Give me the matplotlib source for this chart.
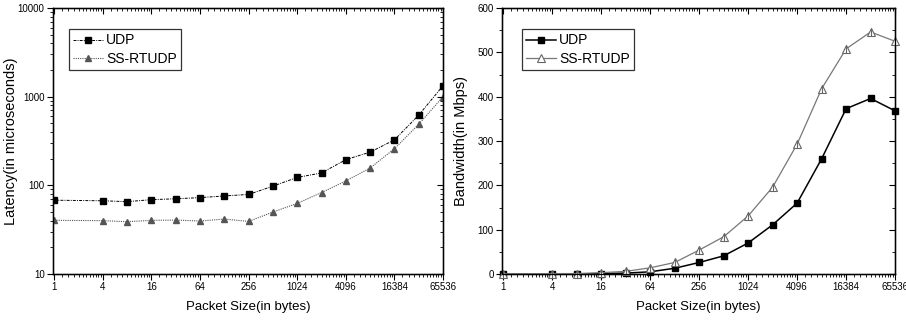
import numpy as np
import matplotlib
matplotlib.use('Agg')
import matplotlib.pyplot as plt
from matplotlib.ticker import LogLocator, FixedLocator, FixedFormatter, MultipleLocator, NullFormatter

plt.rcParams['font.family'] = ['Liberation Sans', 'DejaVu Sans']

# packet sizes (bytes)
sizes = [1, 4, 8, 16, 32, 64, 128, 256, 512, 1024, 2048, 4096, 8192, 16384, 32768, 65536]
xtick_vals = [1, 4, 16, 64, 256, 1024, 4096, 16384, 65536]
xtick_labels = ['1', '4', '16', '64', '256', '1024', '4096', '16384', '65536']

# latency (microseconds)
lat_udp = [68, 67, 65.5, 69, 70.6, 72.7, 76, 79, 98, 123, 138, 195, 237, 326, 620, 1330]
lat_ss = [40.3, 40, 38.9, 40.3, 40.6, 39.6, 41.7, 39.2, 50, 62.6, 83, 112, 157, 259, 488, 1000]

# bandwidth (Mbps)
bw_udp = [0, 0, 0.3, 1, 2, 5, 13, 26, 41, 70, 111, 160, 260, 373, 396, 368]
bw_ss = [0.5, 1, 1, 3, 6, 14, 26, 54, 84, 131, 196, 293, 418, 508, 546, 525]

fig = plt.figure(figsize=(9.06, 3.22), dpi=100)
ax1 = fig.add_axes([0.0585, 0.149, 0.4305, 0.826])
ax2 = fig.add_axes([0.554, 0.149, 0.434, 0.826])

xlo, xhi = 2 ** -0.05, 2 ** 16.0


def style_x(ax):
    ax.set_xscale('log', base=2)
    ax.set_xlim(xlo, xhi)
    ax.xaxis.set_major_locator(FixedLocator(xtick_vals))
    ax.xaxis.set_major_formatter(FixedFormatter(xtick_labels))
    ax.xaxis.set_minor_locator(LogLocator(base=4, subs=np.arange(1.25, 4.0, 0.25), numticks=50))
    ax.xaxis.set_minor_formatter(NullFormatter())
    ax.tick_params(axis='x', which='major', direction='out', length=4, width=0.8, labelsize=7, pad=2)
    ax.tick_params(axis='x', which='minor', direction='out', length=2, width=0.6)
    ax.set_xlabel('Packet Size(in bytes)', fontsize=9.5, labelpad=6)
    # mirrored ticks on top, pointing in
    top = ax.twiny()
    top.set_xscale('log', base=2)
    top.set_xlim(xlo, xhi)
    top.xaxis.set_major_locator(FixedLocator(xtick_vals))
    top.xaxis.set_minor_locator(LogLocator(base=4, subs=np.arange(1.25, 4.0, 0.25), numticks=50))
    top.tick_params(axis='x', which='major', direction='in', length=4, width=0.8, labeltop=False)
    top.tick_params(axis='x', which='minor', direction='in', length=2, width=0.6)
    top.xaxis.set_major_formatter(NullFormatter())
    top.xaxis.set_minor_formatter(NullFormatter())
    for s in ax.spines.values():
        s.set_linewidth(1.0)


# ---- left: latency
style_x(ax1)
ax1.set_yscale('log')
ax1.set_ylim(10, 10000)
ax1.set_yticks([10, 100, 1000, 10000])
ax1.set_yticklabels(['10', '100', '1000', '10000'])
ax1.tick_params(axis='y', which='major', direction='out', length=4, labelsize=7, pad=2)
ax1.tick_params(axis='y', which='minor', direction='out', length=2)
ax1.yaxis.set_minor_formatter(NullFormatter())
ax1.plot(sizes, lat_udp, color='black', linestyle=(0, (3, 1.2, 1, 1.2)), linewidth=0.7,
         marker='s', markersize=4.5, label='UDP')
ax1.plot(sizes, lat_ss, color='#555555', linestyle=(0, (1, 1)), linewidth=0.8,
         marker='^', markersize=5, label='SS-RTUDP')
ax1.set_ylabel('Latency(in microseconds)', fontsize=10.5)
ax1.yaxis.set_label_coords(-0.09, 0.5)
r1 = ax1.twinx()
r1.set_yscale('log')
r1.set_ylim(10, 10000)
r1.tick_params(axis='y', which='major', direction='in', length=4, labelright=False)
r1.tick_params(axis='y', which='minor', direction='in', length=2, labelright=False)
leg1 = ax1.legend(loc='upper left', bbox_to_anchor=(0.04, 0.92), fontsize=10, frameon=True,
                  fancybox=False, edgecolor='black', handlelength=2.2, handletextpad=0.2,
                  borderpad=0.3, labelspacing=0.3, borderaxespad=0)
leg1.get_frame().set_linewidth(0.9)

# ---- right: bandwidth
style_x(ax2)
ax2.set_ylim(0, 600)
ax2.yaxis.set_major_locator(MultipleLocator(100))
ax2.yaxis.set_minor_locator(MultipleLocator(50))
ax2.tick_params(axis='y', which='major', direction='out', length=4, labelsize=7, pad=2)
ax2.tick_params(axis='y', which='minor', direction='out', length=2)
ax2.plot(sizes, bw_udp, color='black', linestyle='-', linewidth=1.1,
         marker='s', markersize=5, label='UDP', clip_on=False, zorder=3)
ax2.plot(sizes, bw_ss, color='#777777', linestyle='-', linewidth=0.9,
         marker='^', markersize=6, markerfacecolor='white', markeredgecolor='#666666',
         markeredgewidth=0.8, label='SS-RTUDP', clip_on=False, zorder=3)
ax2.plot(sizes, bw_ss, linestyle='none', marker='|', markersize=6, color='#666666',
         markeredgewidth=0.8, clip_on=False, zorder=4)
ax2.set_ylabel('Bandwidth(in Mbps)', fontsize=10.5)
ax2.yaxis.set_label_coords(-0.087, 0.5)
r2 = ax2.twinx()
r2.set_ylim(0, 600)
r2.yaxis.set_major_locator(MultipleLocator(100))
r2.yaxis.set_minor_locator(MultipleLocator(50))
r2.tick_params(axis='y', which='major', direction='in', length=4, labelright=False)
r2.tick_params(axis='y', which='minor', direction='in', length=2, labelright=False)
leg2 = ax2.legend(loc='upper left', bbox_to_anchor=(0.05, 0.92), fontsize=10, frameon=True,
                  fancybox=False, edgecolor='black', handlelength=2.2, handletextpad=0.2,
                  borderpad=0.3, labelspacing=0.3, borderaxespad=0)
leg2.get_frame().set_linewidth(0.9)

fig.savefig('out.png', dpi=100)
